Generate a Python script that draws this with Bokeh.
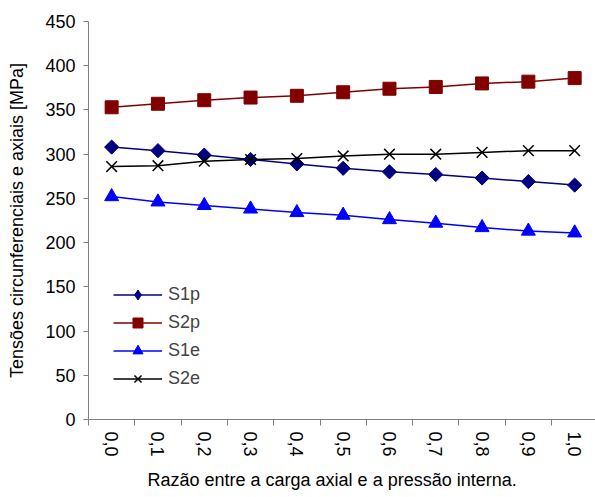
from bokeh.plotting import figure
from bokeh.models import Range1d, FixedTicker, CustomJSTickFormatter, Legend, Title
from bokeh.embed import file_html
from bokeh.resources import INLINE

ratios = [0.0, 0.1, 0.2, 0.3, 0.4, 0.5, 0.6, 0.7, 0.8, 0.9, 1.0]
s1p = [308, 304, 299, 294, 289, 284, 280, 277, 273, 269, 265]
s2p = [353, 357, 361, 364, 366, 370, 374, 376, 380, 382, 386]
s1e = [252, 246, 242, 238, 234, 231, 226, 222, 217, 213, 211]
s2e = [286, 287, 292, 294, 295, 298, 300, 300, 302, 304, 304]
y_ticks = [0, 50, 100, 150, 200, 250, 300, 350, 400, 450]

FONT = "Liberation Sans"
AX = "#808080"

step = ratios[1] - ratios[0]
p = figure(width=595, height=497, output_backend="svg", toolbar_location=None,
           x_range=Range1d(ratios[0] - step / 2, ratios[-1] + step * 0.45),
           y_range=Range1d(y_ticks[0], y_ticks[-1]),
           min_border_left=88, min_border_top=21, min_border_right=0, min_border_bottom=77)
p.outline_line_color = None
p.grid.visible = False
p.background_fill_color = "white"
p.border_fill_color = "white"

# y axis
p.yaxis.ticker = FixedTicker(ticks=y_ticks)
p.yaxis.axis_line_color = AX
p.yaxis.major_tick_line_color = AX
p.yaxis.major_tick_out = 5
p.yaxis.major_tick_in = 0
p.yaxis.minor_tick_line_color = None
p.yaxis.major_label_standoff = 8
p.yaxis.major_label_text_font = FONT
p.yaxis.major_label_text_font_size = "18px"
p.yaxis.major_label_text_color = "black"
p.yaxis.axis_label = "Tensões circunferenciais e axiais [MPa]"
p.yaxis.axis_label_text_font = FONT
p.yaxis.axis_label_text_font_size = "18px"
p.yaxis.axis_label_text_font_style = "normal"
p.yaxis.axis_label_text_color = "black"
p.yaxis.axis_label_standoff = 15

# x axis
bounds = [r - step / 2 for r in ratios] + [ratios[-1] + step / 2]
p.xaxis.ticker = FixedTicker(ticks=ratios, minor_ticks=bounds)
p.xaxis.formatter = CustomJSTickFormatter(code="return tick.toFixed(1).replace('.', ',');")
p.xaxis.axis_line_color = AX
p.xaxis.major_tick_line_color = None
p.xaxis.major_tick_out = 0
p.xaxis.major_tick_in = 0
p.xaxis.minor_tick_line_color = AX
p.xaxis.minor_tick_out = 6
p.xaxis.minor_tick_in = 0
p.xaxis.major_label_orientation = "vertical"
p.xaxis.major_label_standoff = 6
p.xaxis.major_label_text_font = FONT
p.xaxis.major_label_text_font_size = "18px"
p.xaxis.major_label_text_color = "black"

p.add_layout(Title(text="Razão entre a carga axial e a pressão interna.",
                   align="left", offset=59, standoff=16,
                   text_font=FONT, text_font_size="18px", text_font_style="normal",
                   text_color="black"), "below")

series = [
    ("S1p", s1p, "#000080", "diamond", 10),
    ("S2p", s2p, "#800000", "square", 13),
    ("S1e", s1e, "#0000FF", "triangle", 14),
    ("S2e", s2e, "#000000", "x", 15),
]
items = []
for name, vals, col, marker, size in series:
    l = p.line(ratios, vals, line_color=col, line_width=1.5)
    kw = dict(marker=marker, size=size, line_color=col, fill_color=col)
    if marker == "x":
        kw["line_width"] = 1.5
    if marker == "diamond":
        # legend-only diamond hidden beneath the rotated squares
        leg = p.scatter(ratios, vals, marker="diamond", size=8, line_color=col, fill_color=col)
        p.scatter(ratios, vals, marker="square", angle=0.785398, size=size,
                  line_color=col, fill_color=col)
        items.append((name, [l, leg]))
    else:
        s = p.scatter(ratios, vals, **kw)
        items.append((name, [l, s]))

legend = Legend(items=items, location=(25, 28), padding=0, margin=0,
                spacing=3, glyph_width=49, glyph_height=25, label_height=20,
                label_standoff=6, label_text_font=FONT, label_text_font_size="18px",
                border_line_color=None, background_fill_alpha=0)
p.add_layout(legend, "center")

open("out.html", "w").write(file_html(p, INLINE))
